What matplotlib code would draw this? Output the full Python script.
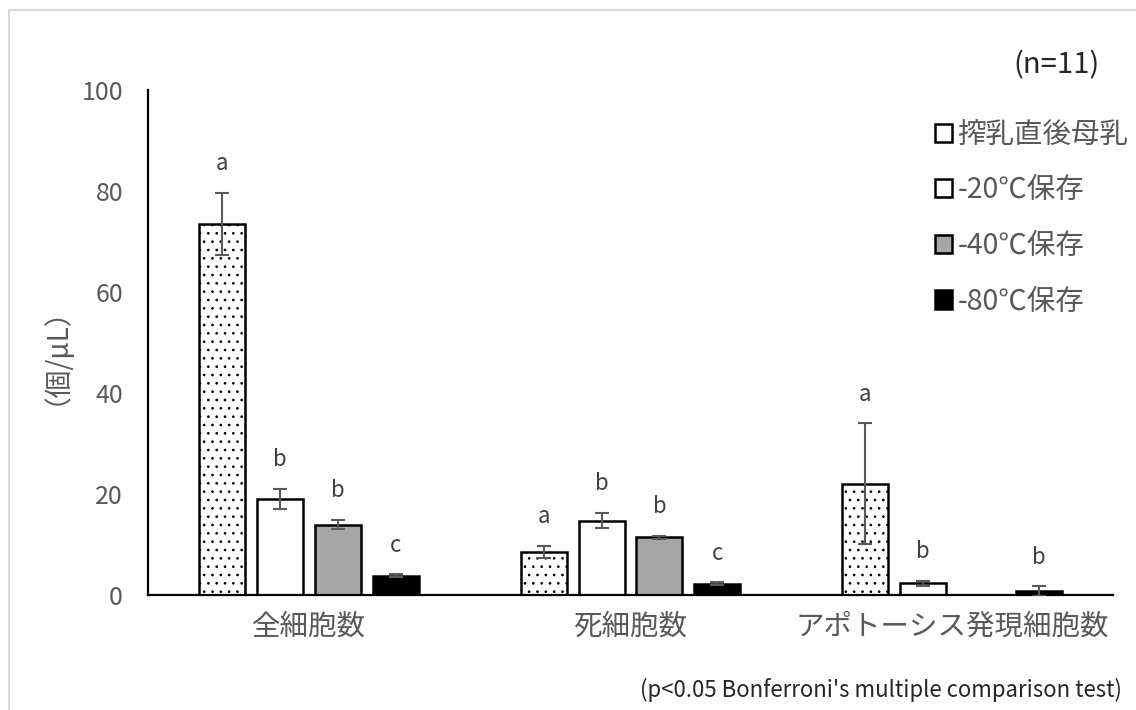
import matplotlib
matplotlib.use('Agg')
import matplotlib.pyplot as plt
import numpy as np
from matplotlib.patches import Patch
from matplotlib.lines import Line2D

plt.rcParams['font.family'] = ['Noto Sans CJK JP', 'DejaVu Sans']
plt.rcParams['hatch.linewidth'] = 0.7

# data
categories = ['全細胞数', '死細胞数', 'アポトーシス発現細胞数']
series = ['搾乳直後母乳', '-20℃保存', '-40℃保存', '-80℃保存']
fresh = [73.5, 8.6, 22.0]
fresh_err = [6.2, 1.2, 12.0]
m20 = [19.0, 14.7, 2.3]
m20_err = [2.0, 1.5, 0.5]
m40 = [13.9, 11.4, 0.0]
m40_err = [0.9, 0.3, 0.0]
m80 = [3.8, 2.2, 0.7]
m80_err = [0.3, 0.3, 1.0]
letters = [['a', 'b', 'b', 'c'], ['a', 'b', 'b', 'c'], ['a', 'b', None, 'b']]

values = [fresh, m20, m40, m80]
errors = [fresh_err, m20_err, m40_err, m80_err]
faces = ['white', 'white', '#a6a6a6', 'black']
hatches = ['..', None, None, None]

GRAY = '#595959'

fig = plt.figure(figsize=(11.36, 7.1), dpi=100)
ax = fig.add_axes([0.1303, 0.162, 0.8495, 0.711])

x = np.arange(len(categories))
width = 0.143
step = 0.18
for i in range(len(series)):
    xs = x + (i - 1.5) * step
    ax.bar(xs, values[i], width, color=faces[i], edgecolor='black',
           linewidth=1.8, hatch=hatches[i], zorder=2)
    for j in range(len(categories)):
        if errors[i][j] > 0:
            ax.errorbar(xs[j], values[i][j], yerr=errors[i][j], fmt='none',
                        ecolor='#595959', elinewidth=1.5, capsize=5, capthick=1.5, zorder=3)
        lab = letters[j][i]
        if lab:
            ax.text(xs[j], values[i][j] + errors[i][j] + 5.8, lab, ha='center', va='center',
                    fontsize=16, color='#404040')

ax.set_xlim(-0.5, 2.5)
ax.set_ylim(0, 100)
ax.set_yticks([0, 20, 40, 60, 80, 100])
ax.set_xticks(x)
ax.set_xticklabels(categories, fontsize=20.5, color=GRAY)
ax.tick_params(axis='y', length=0, labelsize=18, labelcolor=GRAY, pad=18)
ax.tick_params(axis='x', length=0, pad=12)
for s in ['top', 'right']:
    ax.spines[s].set_visible(False)
ax.spines['left'].set_linewidth(1.6)
ax.spines['bottom'].set_linewidth(1.6)

fig.text(42 / 1136, 1 - 342 / 710, '（個/μL）', rotation=90, ha='center', va='center',
         fontsize=20, color=GRAY)

# legend
handles = [Patch(facecolor=faces[i], edgecolor='black', linewidth=1.8, label=series[i])
           for i in range(len(series))]
leg = fig.legend(handles=handles, loc='upper left', bbox_to_anchor=(909 / 1136, 1 - 94 / 710),
                 frameon=False, fontsize=20.5, handlelength=0.6, handleheight=0.6,
                 handletextpad=0.2, labelspacing=0.9)
for t in leg.get_texts():
    t.set_color(GRAY)

fig.text(1100 / 1136, 1 - 65 / 710, '(n=11)', ha='right', va='center', fontsize=21, color='#262626')
fig.text(1122 / 1136, 1 - 690 / 710, "(p<0.05 Bonferroni's multiple comparison test)",
         ha='right', va='center', fontsize=16, color='#262626')

# outer frame (top and left edges)
fig.add_artist(Line2D([9 / 1136, 9 / 1136, 1.0], [0.0, 1 - 10 / 710, 1 - 10 / 710],
                      transform=fig.transFigure, color='#d9d9d9', linewidth=1.5))

fig.savefig('out.png', dpi=100, facecolor='white')
